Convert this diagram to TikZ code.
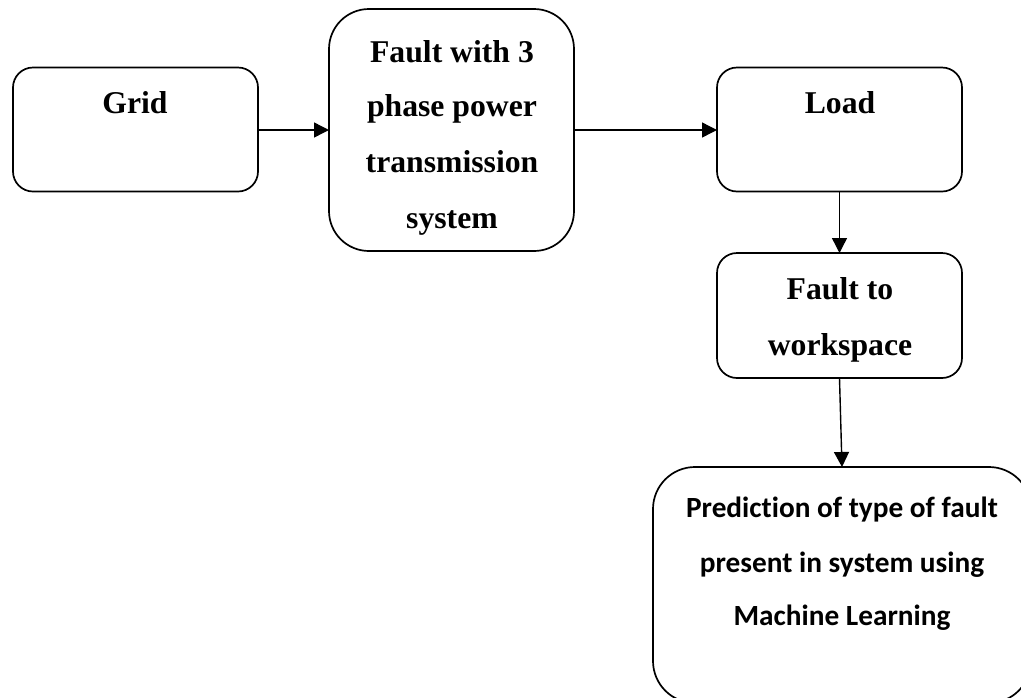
\documentclass[tikz,border=0pt]{standalone}
\usepackage{fontspec}
\setmainfont{Liberation Serif}
\newfontfamily\calfont[Ligatures=NoCommon]{Carlito}
\usetikzlibrary{arrows.meta}
\begin{document}
\begin{tikzpicture}[x=1pt,y=-1pt,
  box/.style={draw, line width=1.7pt, inner sep=0pt, outer sep=0pt},
  serif/.style={font=\fontsize{31.7}{36}\selectfont\bfseries, inner sep=0pt, anchor=base},
  sans/.style={font=\calfont\fontsize{29.3}{33}\selectfont\bfseries, inner sep=0pt, anchor=base},
  arr/.style={line width=1.4pt, -{Triangle[length=15pt,width=15pt]}}]
\useasboundingbox (0,0) rectangle (1021,697);
\clip (0,0) rectangle (1021,697);
\node[box, rounded corners=20pt, minimum width=245pt, minimum height=124pt] (grid) at (135.5,129.5) {};
\node[box, rounded corners=40pt, minimum width=245pt, minimum height=242pt] (fault) at (451.5,130) {};
\node[box, rounded corners=20pt, minimum width=245pt, minimum height=124pt] (load) at (839.5,129.5) {};
\node[box, rounded corners=20pt, minimum width=245pt, minimum height=125pt] (ftw) at (839.5,315.5) {};
\node[box, rounded corners=42pt, minimum width=378pt, minimum height=236pt] (pred) at (842,585) {};
\node[serif] (tgrid) at (135,113) {Grid};
\node[serif] (tf1) at (452,62) {Fault with 3};
\node[serif] (tf2) at (452,116) {phase power};
\node[serif] (tf3) at (452,172) {transmission};
\node[serif] (tf4) at (452,228) {system};
\node[serif] (tload) at (840,113) {Load};
\node[serif] (tw1) at (840,299) {Fault to};
\node[serif] (tw2) at (840,355) {workspace};
\node[sans] (tp1) at (842,517) {Prediction of type of fault};
\node[sans] (tp2) at (842,572) {present in system using};
\node[sans] (tp3) at (842,625) {Machine Learning};
\draw[arr] (grid.east |- 0,130) -- (fault.west |- 0,130);
\draw[arr] (fault.east |- 0,130) -- (load.west |- 0,130);
\draw[arr] (load.south) -- (ftw.north);
\draw[arr] (ftw.south) -- (pred.north);
\end{tikzpicture}
\end{document}
